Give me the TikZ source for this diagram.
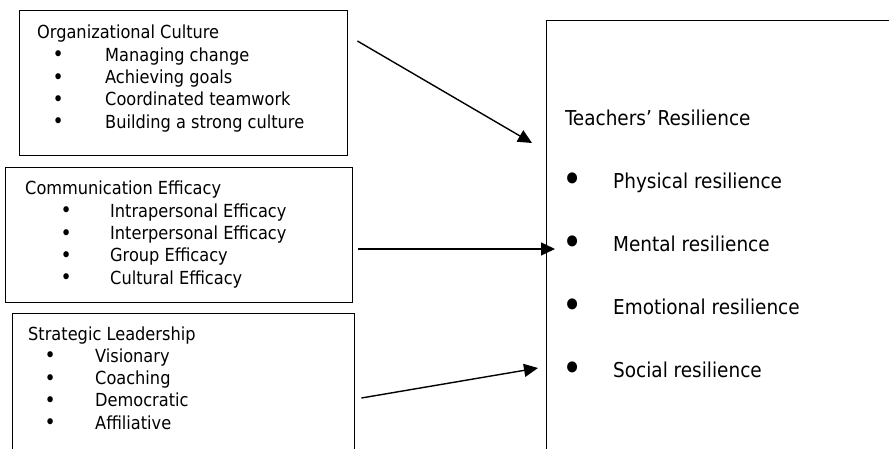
\documentclass[tikz,border=0pt]{standalone}
\usepackage{fontspec}
\setmainfont{DejaVu Sans Condensed}
\usetikzlibrary{arrows.meta, positioning, calc}

% bullet line: bullet centre offset, gap to text, text
\newcommand{\bitem}[3]{\hspace*{#1}\makebox[0pt]{\raisebox{-0.5pt}{\fontsize{21}{21}\selectfont\textbullet}}\hspace*{#2}#3}
\newcommand{\bigbitem}[3]{\hspace*{#1}\makebox[0pt]{\raisebox{-4pt}{\fontsize{38}{38}\selectfont\textbullet}}\hspace*{#2}#3}

\begin{document}
\begin{tikzpicture}[x=1pt, y=-1pt,
        factor/.style={rectangle, draw=black, line width=1.4pt, inner sep=0pt, anchor=north west},
        listtext/.style={inner sep=0pt, anchor=base west, font=\fontsize{18}{22.3}\selectfont},
        bigtext/.style={inner sep=0pt, anchor=base west, font=\fontsize{20.5}{62.8}\selectfont},
        arrow/.style={-{Triangle[length=14pt, width=13pt]}, line width=1.4pt}
    ]
        \clip (0,0) rectangle (889,449);

        % left boxes
        \node[factor, minimum width=328, minimum height=145] (culture) at (19,10) {};
        \node[factor, minimum width=347, minimum height=135] (efficacy) at (5,167) {};
        \node[factor, minimum width=342, minimum height=200] (leadership) at (12,313) {};
        % right box
        \node[factor, minimum width=400, minimum height=500] (resilience) at (546,20) {};

        \node[listtext] (cultureList) at ($(culture.north west)+(18,29)$) {\begin{tabular}[t]{@{}l@{}}
            Organizational Culture\\
            \bitem{21pt}{47pt}{Managing change}\\
            \bitem{21pt}{47pt}{Achieving goals}\\
            \bitem{21pt}{47pt}{Coordinated teamwork}\\
            \bitem{21pt}{47pt}{Building a strong culture}
        \end{tabular}};
        \node[listtext] (efficacyList) at ($(efficacy.north west)+(20,28)$) {\begin{tabular}[t]{@{}l@{}}
            Communication Efficacy\\
            \bitem{41pt}{44pt}{Intrapersonal Efficacy}\\
            \bitem{41pt}{44pt}{Interpersonal Efficacy}\\
            \bitem{41pt}{44pt}{Group Efficacy}\\
            \bitem{41pt}{44pt}{Cultural Efficacy}
        \end{tabular}};
        \node[listtext] (leadershipList) at ($(leadership.north west)+(16,27)$) {\begin{tabular}[t]{@{}l@{}}
            Strategic Leadership\\
            \bitem{22pt}{45pt}{Visionary}\\
            \bitem{22pt}{45pt}{Coaching}\\
            \bitem{22pt}{45pt}{Democratic}\\
            \bitem{22pt}{45pt}{Affiliative}
        \end{tabular}};
        \node[bigtext] (resilienceList) at ($(resilience.north west)+(19,106)$) {\begin{tabular}[t]{@{}l@{}}
            Teachers’ Resilience\\
            \bigbitem{7pt}{41pt}{Physical resilience}\\
            \bigbitem{7pt}{41pt}{Mental resilience}\\
            \bigbitem{7pt}{41pt}{Emotional resilience}\\
            \bigbitem{7pt}{41pt}{Social resilience}
        \end{tabular}};

        % arrow ends
        \coordinate (cultureTail) at ($(culture.north east)+(9,31)$);
        \coordinate (cultureHead) at ($(resilience.north west)+(-14,123)$);
        \coordinate (efficacyTail) at ($(efficacy.north east)+(5,82)$);
        \coordinate (efficacyHead) at ($(resilience.north west)+(9,229)$);
        \coordinate (leadershipTail) at ($(leadership.north east)+(6,85)$);
        \coordinate (leadershipHead) at ($(resilience.north west)+(-8,348)$);

        \draw[arrow] (cultureTail) -- (cultureHead);
        \draw[arrow] (efficacyTail) -- (efficacyHead);
        \draw[arrow] (leadershipTail) -- (leadershipHead);
    \end{tikzpicture}
\end{document}
